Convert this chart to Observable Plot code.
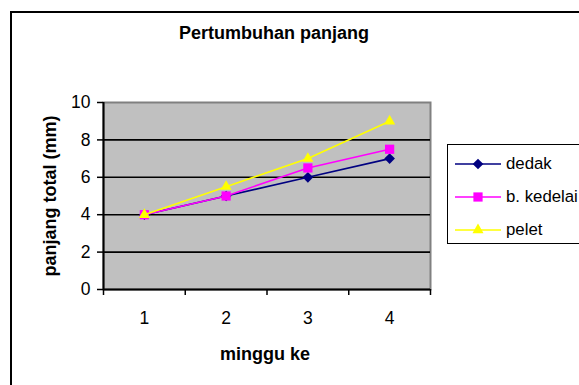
<!DOCTYPE html>
<html>
<head>
<meta charset="utf-8">
<script src="https://cdn.jsdelivr.net/npm/d3@7"></script>
<script src="https://cdn.jsdelivr.net/npm/@observablehq/plot@0.6"></script>
<style>
  body { margin: 0; background: #fff; font-family: "Liberation Sans", Arial, sans-serif; }
  #wrap { position: relative; width: 579px; height: 385px; overflow: hidden; background: #fff; }
  #wrap > svg { position: absolute; left: 0; top: 0; }
  .frame { position: absolute; left: 10px; top: 11px; width: 640px; height: 440px; border: 2px solid #000; box-sizing: border-box; pointer-events: none; }
  .title { position: absolute; left: 74px; width: 400px; top: 23.5px; text-align: center; font-weight: bold; font-size: 18px; line-height: 18px; white-space: nowrap; }
  .xlabel { position: absolute; left: 165px; width: 200px; top: 345px; text-align: center; font-weight: bold; font-size: 18px; line-height: 18px; white-space: nowrap; }
  .ylabel { position: absolute; left: 50px; top: 195.5px; transform: translate(-50%, -50%) rotate(-90deg); font-weight: bold; font-size: 18px; line-height: 18px; white-space: nowrap; }
  .legend { position: absolute; left: 447px; top: 144px; width: 200px; height: 100px; border: 1.5px solid #000; box-sizing: border-box; background: #fff; }
  .legend .row { position: absolute; left: 0; height: 20px; display: flex; align-items: center; }
  .legend .row svg { display: block; }
  .legend .row span { font-size: 16.8px; line-height: 20px; margin-left: 4px; white-space: nowrap; }
</style>
</head>
<body>
<div id="wrap"></div>
<script>
// ---- data ----
const weeks = [1, 2, 3, 4];
const dedak = [4, 5, 6, 7];
const kedelai = [4, 5, 6.5, 7.5];
const pelet = [4, 5.5, 7, 9];
const seriesNames = ["dedak", "b. kedelai", "pelet"];
const seriesColors = ["#000080", "#FF00FF", "#FFFF00"];
const seriesSymbols = ["diamond2", "square", "triangle"];
const seriesR = [4.8, 5.2, 4.1];
const yTicks = [0, 2, 4, 6, 8, 10];
const titleText = "Pertumbuhan panjang";
const xTitle = "minggu ke";
const yTitle = "panjang total (mm)";

const seriesValues = [dedak, kedelai, pelet];
const series = seriesNames.map((name, k) => ({
  name, color: seriesColors[k], symbol: seriesSymbols[k], r: seriesR[k],
  rows: weeks.map((w, i) => ({ week: w, value: seriesValues[k][i] }))
}));

const xDomain = [weeks[0] - 0.5, weeks[weeks.length - 1] + 0.5];
const bounds = [...weeks.map(w => w - 0.5), weeks[weeks.length - 1] + 0.5];

const seriesMarks = series.flatMap(s => [
  Plot.line(s.rows, { x: "week", y: "value", stroke: s.color, strokeWidth: 1.6 }),
  Plot.dot(s.rows, { x: "week", y: "value", symbol: () => s.symbol, fill: s.color, stroke: "none", r: s.r })
]);

const chart = Plot.plot({
  width: 579,
  height: 385,
  marginLeft: 103,
  marginRight: 149,
  marginTop: 102,
  marginBottom: 96,
  style: { background: "transparent", fontFamily: "'Liberation Sans', Arial, sans-serif", fontSize: "17.5px", color: "#000" },
  x: { domain: xDomain, axis: null },
  y: { domain: [yTicks[0], yTicks[yTicks.length - 1]], axis: null },
  symbol: { type: "identity" },
  marks: [
    Plot.frame({ fill: "#c0c0c0", stroke: "#808080", strokeWidth: 2 }),
    Plot.ruleY(yTicks.slice(1, -1), { stroke: "#000", strokeWidth: 1.6 }),
    Plot.axisY({ ticks: yTicks, tickSize: 6, tickPadding: 7, label: null, strokeWidth: 1.5, fontSize: 17.5, tickFormat: d3.format("d") }),
    Plot.axisX({ ticks: weeks, tickSize: 0, tickPadding: 22, label: null, fontSize: 17.5, tickFormat: d3.format("d") }),
    Plot.axisX({ ticks: bounds, tickSize: 6, tickFormat: () => "", label: null, strokeWidth: 1.5 }),
    Plot.ruleX([xDomain[0]], { stroke: "#000", strokeWidth: 2 }),
    Plot.ruleY([yTicks[0]], { stroke: "#000", strokeWidth: 2 }),
    ...seriesMarks
  ]
});

const wrap = document.getElementById("wrap");
wrap.appendChild(chart);

const mk = (cls, text) => { const d = document.createElement("div"); d.className = cls; d.textContent = text; wrap.appendChild(d); return d; };
mk("title", titleText);
mk("xlabel", xTitle);
mk("ylabel", yTitle);

// legend
const legend = document.createElement("div");
legend.className = "legend";
const rowTops = [9, 42, 75];
series.forEach((s, k) => {
  const row = document.createElement("div");
  row.className = "row";
  row.style.top = rowTops[k] + "px";
  const svg = d3.create("svg").attr("width", 54).attr("height", 20);
  svg.append("line").attr("x1", 7).attr("x2", 53).attr("y1", 10).attr("y2", 10)
    .attr("stroke", s.color).attr("stroke-width", 1.6);
  const symType = { diamond2: d3.symbolDiamond2, square: d3.symbolSquare, triangle: d3.symbolTriangle }[s.symbol];
  svg.append("path").attr("transform", "translate(30,10)")
    .attr("d", d3.symbol(symType, Math.PI * s.r * s.r)()).attr("fill", s.color);
  row.appendChild(svg.node());
  const span = document.createElement("span");
  span.textContent = s.name;
  row.appendChild(span);
  legend.appendChild(row);
});
wrap.appendChild(legend);

const frame = document.createElement("div");
frame.className = "frame";
wrap.appendChild(frame);
</script>
</body>
</html>
